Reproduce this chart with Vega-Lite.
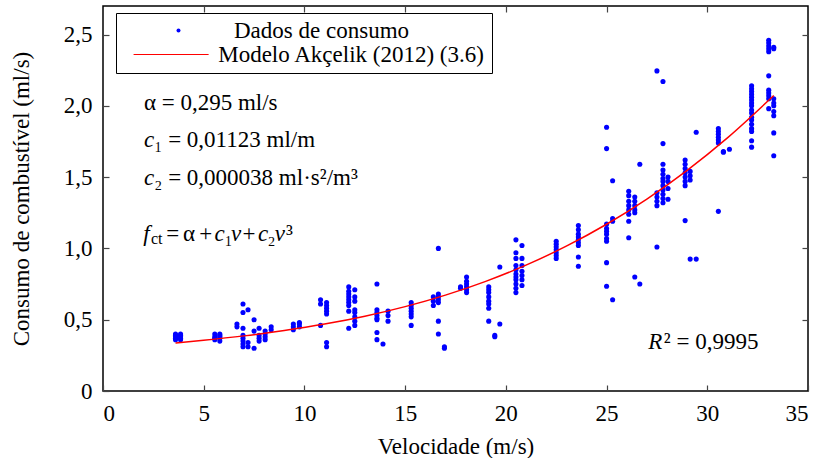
{
  "$schema": "https://vega.github.io/schema/vega-lite/v6.json",
  "width": 705,
  "height": 385,
  "autosize": {"type": "none"},
  "padding": {"left": 103, "top": 6, "right": 19, "bottom": 67},
  "background": "white",
  "config": {
    "font": "Liberation Serif",
    "view": {"stroke": "black", "strokeWidth": 1.5},
    "axis": {
      "grid": false,
      "domain": false,
      "tickSize": -6,
      "tickColor": "#444444",
      "tickWidth": 1.2,
      "labelFont": "Liberation Serif",
      "labelFontSize": 23,
      "labelColor": "black",
      "titleFont": "Liberation Serif",
      "titleFontSize": 23,
      "titleFontWeight": "normal",
      "titleColor": "black"
    },
    "legend": {"labelFont": "Liberation Serif", "titleFont": "Liberation Serif"}
  },
  "datasets": {
    "pontos": [
      {"v":3.6,"c":0.36},{"v":3.6,"c":0.37},{"v":3.6,"c":0.38},{"v":3.6,"c":0.39},{"v":3.6,"c":0.40},
      {"v":3.85,"c":0.36},{"v":3.85,"c":0.37},{"v":3.85,"c":0.38},{"v":3.85,"c":0.39},{"v":3.85,"c":0.40},
      {"v":5.55,"c":0.36},{"v":5.55,"c":0.37},{"v":5.55,"c":0.38},{"v":5.55,"c":0.40},
      {"v":5.8,"c":0.35},{"v":5.8,"c":0.37},{"v":5.8,"c":0.38},{"v":5.8,"c":0.39},{"v":5.8,"c":0.40},
      {"v":6.65,"c":0.47},{"v":6.65,"c":0.45},
      {"v":6.95,"c":0.61},{"v":6.95,"c":0.55},{"v":6.95,"c":0.44},{"v":6.95,"c":0.39},{"v":6.95,"c":0.37},{"v":6.95,"c":0.35},{"v":6.95,"c":0.33},{"v":6.95,"c":0.31},
      {"v":7.2,"c":0.57},{"v":7.2,"c":0.34},{"v":7.2,"c":0.31},
      {"v":7.5,"c":0.50},{"v":7.5,"c":0.42},{"v":7.5,"c":0.30},
      {"v":7.75,"c":0.44},{"v":7.75,"c":0.39},{"v":7.75,"c":0.37},{"v":7.75,"c":0.35},
      {"v":8.05,"c":0.42},{"v":8.05,"c":0.40},{"v":8.05,"c":0.38},{"v":8.05,"c":0.36},
      {"v":8.35,"c":0.45},{"v":8.35,"c":0.43},
      {"v":9.45,"c":0.47},{"v":9.45,"c":0.45},{"v":9.45,"c":0.43},
      {"v":9.75,"c":0.48},{"v":9.75,"c":0.47},{"v":9.75,"c":0.45},
      {"v":10.8,"c":0.64},{"v":10.8,"c":0.61},{"v":10.8,"c":0.46},
      {"v":11.1,"c":0.62},{"v":11.1,"c":0.60},{"v":11.1,"c":0.58},{"v":11.1,"c":0.56},{"v":11.1,"c":0.54},{"v":11.1,"c":0.34},{"v":11.1,"c":0.31},
      {"v":12.2,"c":0.73},{"v":12.2,"c":0.70},{"v":12.2,"c":0.68},{"v":12.2,"c":0.66},{"v":12.2,"c":0.64},{"v":12.2,"c":0.62},{"v":12.2,"c":0.60},{"v":12.2,"c":0.56},{"v":12.2,"c":0.44},
      {"v":12.5,"c":0.71},{"v":12.5,"c":0.66},{"v":12.5,"c":0.63},{"v":12.5,"c":0.57},{"v":12.5,"c":0.55},{"v":12.5,"c":0.52},{"v":12.5,"c":0.49},{"v":12.5,"c":0.46},
      {"v":13.6,"c":0.75},{"v":13.6,"c":0.57},{"v":13.6,"c":0.55},{"v":13.6,"c":0.53},{"v":13.6,"c":0.51},{"v":13.6,"c":0.50},{"v":13.6,"c":0.41},{"v":13.6,"c":0.36},
      {"v":13.9,"c":0.33},
      {"v":14.15,"c":0.56},{"v":14.15,"c":0.53},{"v":14.15,"c":0.49},
      {"v":15.3,"c":0.62},{"v":15.3,"c":0.60},{"v":15.3,"c":0.58},{"v":15.3,"c":0.56},{"v":15.3,"c":0.54},{"v":15.3,"c":0.52},{"v":15.3,"c":0.46},
      {"v":16.4,"c":0.66},{"v":16.4,"c":0.63},{"v":16.4,"c":0.60},
      {"v":16.65,"c":1.00},{"v":16.65,"c":0.68},{"v":16.65,"c":0.66},{"v":16.65,"c":0.64},{"v":16.65,"c":0.62},{"v":16.65,"c":0.49},{"v":16.65,"c":0.40},
      {"v":16.95,"c":0.31},{"v":16.95,"c":0.30},
      {"v":17.75,"c":0.73},{"v":17.75,"c":0.72},
      {"v":18.05,"c":0.80},{"v":18.05,"c":0.77},{"v":18.05,"c":0.75},{"v":18.05,"c":0.73},{"v":18.05,"c":0.71},{"v":18.05,"c":0.69},
      {"v":19.15,"c":0.73},{"v":19.15,"c":0.71},{"v":19.15,"c":0.69},{"v":19.15,"c":0.66},{"v":19.15,"c":0.63},{"v":19.15,"c":0.61},{"v":19.15,"c":0.58},{"v":19.15,"c":0.49},
      {"v":19.45,"c":0.39},{"v":19.45,"c":0.38},
      {"v":19.7,"c":0.87},{"v":19.7,"c":0.47},
      {"v":20.5,"c":1.06},{"v":20.5,"c":0.97},{"v":20.5,"c":0.93},{"v":20.5,"c":0.88},{"v":20.5,"c":0.85},{"v":20.5,"c":0.82},{"v":20.5,"c":0.80},{"v":20.5,"c":0.78},{"v":20.5,"c":0.75},{"v":20.5,"c":0.72},{"v":20.5,"c":0.69},
      {"v":20.8,"c":1.02},{"v":20.8,"c":0.93},{"v":20.8,"c":0.88},{"v":20.8,"c":0.84},{"v":20.8,"c":0.81},{"v":20.8,"c":0.78},{"v":20.8,"c":0.74},
      {"v":22.5,"c":1.05},{"v":22.5,"c":1.03},{"v":22.5,"c":1.01},{"v":22.5,"c":0.99},{"v":22.5,"c":0.97},{"v":22.5,"c":0.95},{"v":22.5,"c":0.93},
      {"v":23.6,"c":1.16},{"v":23.6,"c":1.13},{"v":23.6,"c":1.10},{"v":23.6,"c":1.08},{"v":23.6,"c":1.06},{"v":23.6,"c":1.04},{"v":23.6,"c":1.02},{"v":23.6,"c":0.94},{"v":23.6,"c":0.875},
      {"v":25.0,"c":1.85},{"v":25.0,"c":1.70},{"v":25.0,"c":1.17},{"v":25.0,"c":1.14},{"v":25.0,"c":1.12},{"v":25.0,"c":1.10},{"v":25.0,"c":1.07},{"v":25.0,"c":1.05},{"v":25.0,"c":0.90},{"v":25.0,"c":0.735},
      {"v":25.3,"c":1.475},{"v":25.3,"c":1.21},{"v":25.3,"c":1.19},{"v":25.3,"c":0.64},
      {"v":26.1,"c":1.40},{"v":26.1,"c":1.37},{"v":26.1,"c":1.33},{"v":26.1,"c":1.30},{"v":26.1,"c":1.27},{"v":26.1,"c":1.24},{"v":26.1,"c":1.19},{"v":26.1,"c":1.075},
      {"v":26.4,"c":1.36},{"v":26.4,"c":1.33},{"v":26.4,"c":1.30},{"v":26.4,"c":1.27},{"v":26.4,"c":1.25},{"v":26.4,"c":0.80},
      {"v":26.65,"c":1.59},{"v":26.65,"c":0.75},
      {"v":27.5,"c":2.245},{"v":27.5,"c":1.39},{"v":27.5,"c":1.36},{"v":27.5,"c":1.33},{"v":27.5,"c":1.30},{"v":27.5,"c":1.01},
      {"v":27.8,"c":2.17},{"v":27.8,"c":1.735},{"v":27.8,"c":1.59},{"v":27.8,"c":1.55},{"v":27.8,"c":1.52},{"v":27.8,"c":1.49},{"v":27.8,"c":1.47},{"v":27.8,"c":1.44},{"v":27.8,"c":1.41},{"v":27.8,"c":1.38},{"v":27.8,"c":1.35},{"v":27.8,"c":1.32},
      {"v":28.05,"c":1.50},{"v":28.05,"c":1.47},{"v":28.05,"c":1.42},{"v":28.05,"c":1.345},
      {"v":28.9,"c":1.62},{"v":28.9,"c":1.59},{"v":28.9,"c":1.56},{"v":28.9,"c":1.53},{"v":28.9,"c":1.50},{"v":28.9,"c":1.47},{"v":28.9,"c":1.44},{"v":28.9,"c":1.195},
      {"v":29.15,"c":1.54},{"v":29.15,"c":1.51},{"v":29.15,"c":1.48},{"v":29.15,"c":0.925},
      {"v":29.45,"c":1.815},{"v":29.45,"c":0.925},
      {"v":30.55,"c":1.84},{"v":30.55,"c":1.82},{"v":30.55,"c":1.80},{"v":30.55,"c":1.78},{"v":30.55,"c":1.76},{"v":30.55,"c":1.74},{"v":30.55,"c":1.26},
      {"v":30.8,"c":1.675},{"v":30.8,"c":1.68},
      {"v":31.1,"c":1.695},
      {"v":32.2,"c":2.14},{"v":32.2,"c":2.12},{"v":32.2,"c":2.10},{"v":32.2,"c":2.08},{"v":32.2,"c":2.06},{"v":32.2,"c":2.04},{"v":32.2,"c":2.02},{"v":32.2,"c":2.00},{"v":32.2,"c":1.97},{"v":32.2,"c":1.95},{"v":32.2,"c":1.92},{"v":32.2,"c":1.90},{"v":32.2,"c":1.87},{"v":32.2,"c":1.84},{"v":32.2,"c":1.82},{"v":32.2,"c":1.755},{"v":32.2,"c":1.71},
      {"v":33.05,"c":2.46},{"v":33.05,"c":2.44},{"v":33.05,"c":2.42},{"v":33.05,"c":2.40},{"v":33.05,"c":2.38},{"v":33.05,"c":2.21},{"v":33.05,"c":2.11},{"v":33.05,"c":2.09},{"v":33.05,"c":2.07},{"v":33.05,"c":2.05},{"v":33.05,"c":1.98},
      {"v":33.3,"c":2.41},{"v":33.3,"c":2.40},{"v":33.3,"c":2.05},{"v":33.3,"c":2.02},{"v":33.3,"c":2.00},{"v":33.3,"c":1.96},{"v":33.3,"c":1.93},{"v":33.3,"c":1.81},{"v":33.3,"c":1.65}
    ],
    "modelo": [
      {"v":3.6,"c":0.3372},{"v":5,"c":0.3559},{"v":7,"c":0.3866},{"v":9,"c":0.4238},{"v":11,"c":0.4691},
      {"v":13,"c":0.5245},{"v":15,"c":0.5917},{"v":17,"c":0.6726},{"v":19,"c":0.7690},{"v":21,"c":0.8827},
      {"v":23,"c":1.0156},{"v":25,"c":1.1695},{"v":27,"c":1.3462},{"v":29,"c":1.5475},{"v":31,"c":1.7752},{"v":33.3,"c":2.0720}
    ],
    "texto": [
      {"x":2.03,"y":1.97,"t":"α = 0,295 ml/s"},
      {"x":2.55,"y":1.712,"t":"₁ = 0,01123 ml/m"},
      {"x":2.55,"y":1.448,"t":"₂ = 0,000038 ml·s²/m³"},
      {"x":3.14,"y":1.05,"t":"="},
      {"x":3.97,"y":1.05,"t":"α"},
      {"x":4.78,"y":1.05,"t":"+"},
      {"x":6.03,"y":1.05,"t":"₁"},
      {"x":6.92,"y":1.05,"t":"+"},
      {"x":8.17,"y":1.05,"t":"₂"},
      {"x":9.08,"y":1.05,"t":"³"}, 
      {"x":27.84,"y":0.296,"t":"² = 0,9995"}
    ],
    "italico": [
      {"x":2.03,"y":1.712,"t":"c"},
      {"x":2.03,"y":1.448,"t":"c"},
      {"x":2.0,"y":1.05,"t":"f"},
      {"x":5.54,"y":1.05,"t":"c"},
      {"x":6.36,"y":1.05,"t":"v"},
      {"x":7.69,"y":1.05,"t":"c"},
      {"x":8.53,"y":1.05,"t":"v"},
      {"x":27.07,"y":0.296,"t":"R"}
    ],
    "indice": [
      {"x":2.38,"y":1.05,"t":"ct"}
    ]
  },
  "layer": [
    {
      "data": {"name": "pontos"},
      "mark": {"type": "point", "filled": true, "shape": "circle", "size": 26, "opacity": 1},
      "encoding": {
        "x": {"field": "v", "type": "quantitative", "scale": {"domain": [0, 35], "nice": false, "zero": false},
          "axis": {"orient": "bottom", "values": [0,5,10,15,20,25,30,35], "title": "Velocidade (m/s)", "labelPadding": 17, "titlePadding": 10}},
        "y": {"field": "c", "type": "quantitative", "scale": {"domain": [0, 2.7], "nice": false, "zero": false},
          "axis": {"orient": "left", "values": [0,0.5,1,1.5,2,2.5], "title": "Consumo de combustível (ml/s)", "labelPadding": 17, "titlePadding": 30,
            "labelExpr": "datum.value == 0 ? '0' : replace(format(datum.value, '.1f'), '.', ',')"}},
        "color": {"datum": "Dados de consumo", "type": "nominal",
          "scale": {"domain": ["Dados de consumo"], "range": ["#0000ff"]},
          "legend": {
            "title": null, "orient": "none", "legendX": 13, "legendY": 7, "direction": "vertical",
            "padding": 6,
            "labelFont": "Liberation Serif", "labelFontSize": 23, "labelColor": "black", "labelLimit": 600,
            "symbolType": "circle", "symbolSize": 16, "symbolStrokeWidth": 0, "symbolOffset": 45, "labelOffset": 44
          }}
      }
    },
    {
      "data": {"name": "modelo"},
      "mark": {"type": "line", "interpolate": "monotone", "strokeWidth": 1.5},
      "encoding": {
        "x": {"field": "v", "type": "quantitative", "scale": {"domain": [0, 35], "nice": false, "zero": false},
          "axis": {"orient": "top", "values": [5,10,15,20,25,30], "labels": false, "title": null}},
        "y": {"field": "c", "type": "quantitative", "scale": {"domain": [0, 2.7], "nice": false, "zero": false},
          "axis": {"orient": "right", "values": [0.5,1,1.5,2,2.5], "labels": false, "title": null}},
        "color": {"datum": "Modelo Akçelik (2012) (3.6)", "type": "nominal",
          "scale": {"domain": ["Modelo Akçelik (2012) (3.6)"], "range": ["#ff0000"]},
          "legend": {
            "title": " ", "titleFontSize": 23, "titlePadding": 1, "orient": "none", "legendX": 13, "legendY": 7, "direction": "vertical",
            "strokeColor": "black", "padding": 6,
            "labelFont": "Liberation Serif", "labelFontSize": 23, "labelColor": "black", "labelLimit": 600,
            "symbolType": "M-4,0H4", "symbolSize": 352, "symbolOffset": 37.6, "labelOffset": 35.6,
            "symbolStrokeWidth": 1.2
          }}
      }
    },
    {
      "data": {"name": "texto"},
      "mark": {"type": "text", "align": "left", "baseline": "alphabetic", "fontSize": 23, "font": "Liberation Serif", "color": "black"},
      "encoding": {
        "x": {"field": "x", "type": "quantitative", "scale": {"domain": [0, 35], "nice": false, "zero": false}, "axis": null},
        "y": {"field": "y", "type": "quantitative", "scale": {"domain": [0, 2.7], "nice": false, "zero": false}, "axis": null},
        "text": {"field": "t"}
      }
    },
    {
      "data": {"name": "italico"},
      "mark": {"type": "text", "align": "left", "baseline": "alphabetic", "fontSize": 23, "font": "Liberation Serif", "fontStyle": "italic", "color": "black"},
      "encoding": {
        "x": {"field": "x", "type": "quantitative", "scale": {"domain": [0, 35], "nice": false, "zero": false}, "axis": null},
        "y": {"field": "y", "type": "quantitative", "scale": {"domain": [0, 2.7], "nice": false, "zero": false}, "axis": null},
        "text": {"field": "t"}
      }
    },
    {
      "data": {"name": "indice"},
      "mark": {"type": "text", "align": "left", "baseline": "alphabetic", "fontSize": 16, "dy": 3, "font": "Liberation Serif", "color": "black"},
      "encoding": {
        "x": {"field": "x", "type": "quantitative", "scale": {"domain": [0, 35], "nice": false, "zero": false}, "axis": null},
        "y": {"field": "y", "type": "quantitative", "scale": {"domain": [0, 2.7], "nice": false, "zero": false}, "axis": null},
        "text": {"field": "t"}
      }
    }
  ],
  "resolve": {"axis": {"x": "independent", "y": "independent"}, "scale": {"color": "independent"}}
}
